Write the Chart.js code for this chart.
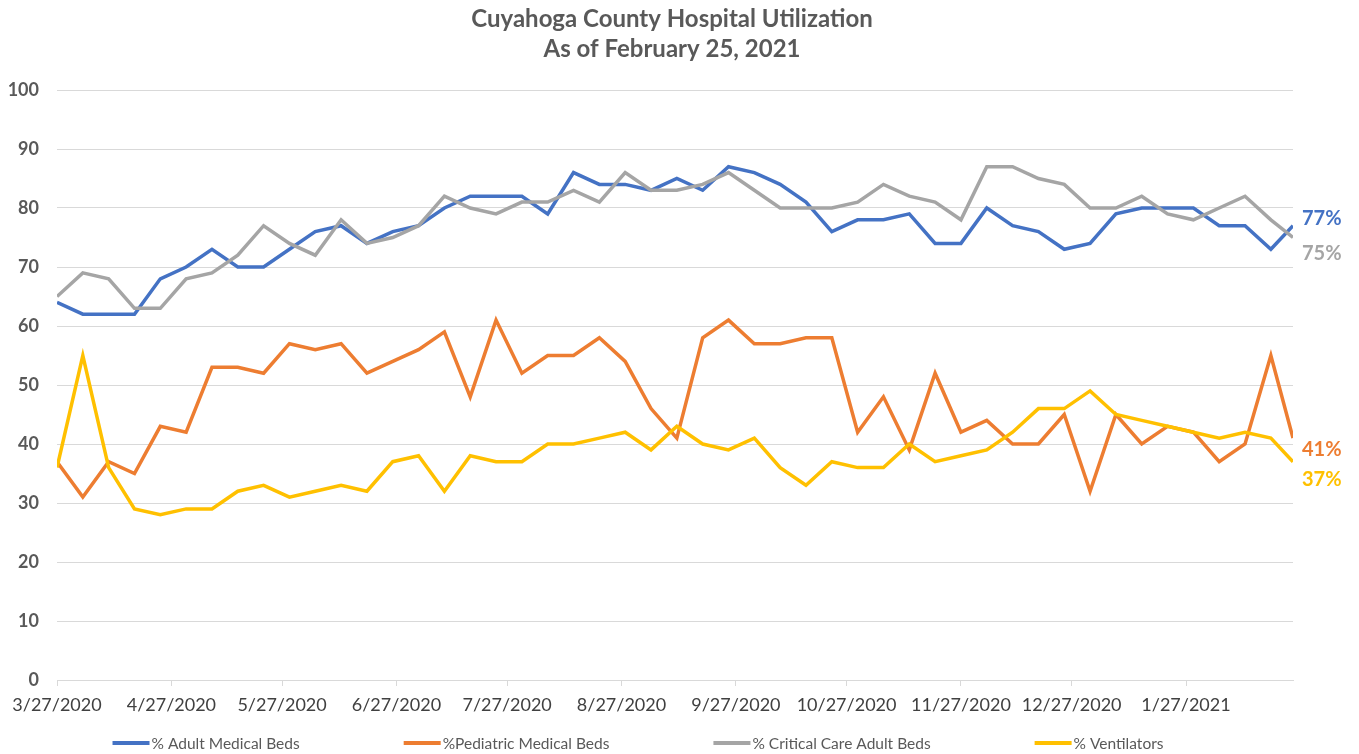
<!DOCTYPE html>
<html><head><meta charset="utf-8">
<script src="https://cdn.jsdelivr.net/npm/chart.js@4.4.1/dist/chart.umd.min.js"></script>
<style>html,body{margin:0;padding:0;background:#fff;overflow:hidden}#wrap{width:1359px;height:754px;position:relative}</style>
</head><body><div id="wrap"><canvas id="c" width="1359" height="754"></canvas></div>
<script>
const dates = ['3/27/2020','4/3/2020','4/10/2020','4/17/2020','4/24/2020','5/1/2020','5/8/2020','5/15/2020','5/22/2020','5/29/2020',
  '6/5/2020','6/12/2020','6/19/2020','6/26/2020','7/3/2020','7/10/2020','7/17/2020','7/24/2020','7/31/2020','8/7/2020',
  '8/14/2020','8/21/2020','8/28/2020','9/4/2020','9/11/2020','9/18/2020','9/25/2020','10/2/2020','10/9/2020','10/16/2020',
  '10/23/2020','10/30/2020','11/6/2020','11/13/2020','11/20/2020','11/27/2020','12/4/2020','12/11/2020','12/18/2020','12/25/2020',
  '1/1/2021','1/8/2021','1/15/2021','1/22/2021','1/29/2021','2/5/2021','2/12/2021','2/19/2021','2/25/2021'];
const adultMedical = [64,62,62,62,68,70,73,70,70,73,76,77,74,76,77,80,82,82,82,79,86,84,84,83,85,83,87,86,84,81,76,78,78,79,74,74,80,77,76,73,74,79,80,80,80,77,77,73,77];
const pediatricMedical = [37,31,37,35,43,42,53,53,52,57,56,57,52,54,56,59,48,61,52,55,55,58,54,46,41,58,61,57,57,58,58,42,48,39,52,42,44,40,40,45,32,45,40,43,42,37,40,55,41];
const criticalCare = [65,69,68,63,63,68,69,72,77,74,72,78,74,75,77,82,80,79,81,81,83,81,86,83,83,84,86,83,80,80,80,81,84,82,81,78,87,87,85,84,80,80,82,79,78,80,82,78,75];
const ventilators = [36,55,36,29,28,29,29,32,33,31,32,33,32,37,38,32,38,37,37,40,40,41,42,39,43,40,39,41,36,33,37,36,36,40,37,38,39,42,46,46,49,45,44,43,42,41,42,41,37];
const tickLabels = ['3/27/2020','4/27/2020','5/27/2020','6/27/2020','7/27/2020','8/27/2020','9/27/2020','10/27/2020','11/27/2020','12/27/2020','1/27/2021'];
const seriesNames = ['% Adult Medical Beds','%Pediatric Medical Beds','% Critical Care Adult Beds','% Ventilators'];
const seriesValues = [adultMedical, pediatricMedical, criticalCare, ventilators];
const colors = ['#4472C4','#ED7D31','#A5A5A5','#FFC000'];
const titleLines = ['Cuyahoga County Hospital Utilization','As of February 25, 2021'];

const FONT = 'Lato';
function toUTC(s){ const [m,d,y] = s.split('/').map(Number); return Date.UTC(y, m-1, d); }
const origin = toUTC(dates[0]);
function dayOf(s){ return Math.round((toUTC(s) - origin) / 86400000); }

const datasets = seriesValues.map((vals, k) => ({
  label: seriesNames[k],
  data: vals.map((v, i) => ({x: dayOf(dates[i]), y: v})),
  borderColor: colors[k], backgroundColor: colors[k],
  borderWidth: 3.5, pointRadius: 0, tension: 0, fill: false,
  order: 4 - k
}));

const titlePlugin = {
  id: 'titleLines',
  afterDraw(chart){
    const {ctx, chartArea} = chart;
    ctx.save();
    ctx.font = 'bold 24px ' + FONT;
    ctx.fillStyle = '#595959';
    ctx.textAlign = 'center'; ctx.textBaseline = 'middle';
    const cx = (chartArea.left + chartArea.right) / 2 - 3;
    ctx.fillText(titleLines[0], cx, 19);
    ctx.fillText(titleLines[1], cx, 49);
    ctx.restore();
  }
};

const endLabelOffsets = [-7, 11, 16, 18];
const endLabels = {
  id: 'endLabels',
  afterDatasetsDraw(chart){
    const {ctx} = chart;
    ctx.save();
    ctx.font = 'bold 20px ' + FONT;
    ctx.textAlign = 'left'; ctx.textBaseline = 'middle';
    chart.data.datasets.forEach((ds, k) => {
      const meta = chart.getDatasetMeta(k);
      const pt = meta.data[meta.data.length - 1];
      const v = ds.data[ds.data.length - 1].y;
      ctx.fillStyle = colors[k];
      ctx.fillText(v + '%', pt.x + 9, pt.y + endLabelOffsets[k]);
    });
    ctx.restore();
  }
};

const legendPlugin = {
  id: 'bottomLegend',
  afterDraw(chart){
    const {ctx} = chart;
    ctx.save();
    ctx.font = '15.5px ' + FONT;
    ctx.textBaseline = 'middle'; ctx.textAlign = 'left';
    const sample = 37, gapText = 2, gapItem = 104, y = 743, center = 638;
    const widths = seriesNames.map(n => sample + gapText + ctx.measureText(n).width);
    const total = widths.reduce((a,b)=>a+b,0) + gapItem * (widths.length - 1);
    let x = center - total / 2;
    seriesNames.forEach((n, k) => {
      ctx.strokeStyle = colors[k]; ctx.lineWidth = 4; ctx.lineCap = 'butt';
      ctx.beginPath(); ctx.moveTo(x, y); ctx.lineTo(x + sample, y); ctx.stroke();
      ctx.fillStyle = '#595959';
      ctx.fillText(n, x + sample + gapText, y + 1);
      x += widths[k] + gapItem;
    });
    ctx.restore();
  }
};

new Chart(document.getElementById('c'), {
  type: 'line',
  data: { datasets },
  options: {
    responsive: false, animation: false, devicePixelRatio: 1,
    layout: { padding: { top: 90, right: 66, bottom: 34, left: 0 } },
    plugins: { legend: { display: false }, title: { display: false }, tooltip: { enabled: false } },
    scales: {
      x: {
        type: 'linear', min: 0, max: dayOf(dates[dates.length - 1]),
        afterBuildTicks: s => { s.ticks = tickLabels.map(l => ({ value: dayOf(l) })); },
        afterFit: s => { s.height = 40; },
        ticks: { autoSkip: false, maxRotation: 0, minRotation: 0, padding: 8, color: '#404040',
          font: { family: FONT, size: 18 }, callback: (v, i) => tickLabels[i] },
        grid: { drawOnChartArea: false, drawTicks: true, tickLength: 6, color: '#d9d9d9' },
        border: { display: true, color: '#d9d9d9' }
      },
      y: {
        min: 0, max: 100,
        afterFit: s => { s.width = 57; },
        ticks: { stepSize: 10, padding: 18, color: '#595959', font: { family: FONT, size: 18, weight: 'bold' } },
        grid: { color: '#d9d9d9', drawTicks: false },
        border: { display: false }
      }
    }
  },
  plugins: [titlePlugin, endLabels, legendPlugin]
});
</script></body></html>
